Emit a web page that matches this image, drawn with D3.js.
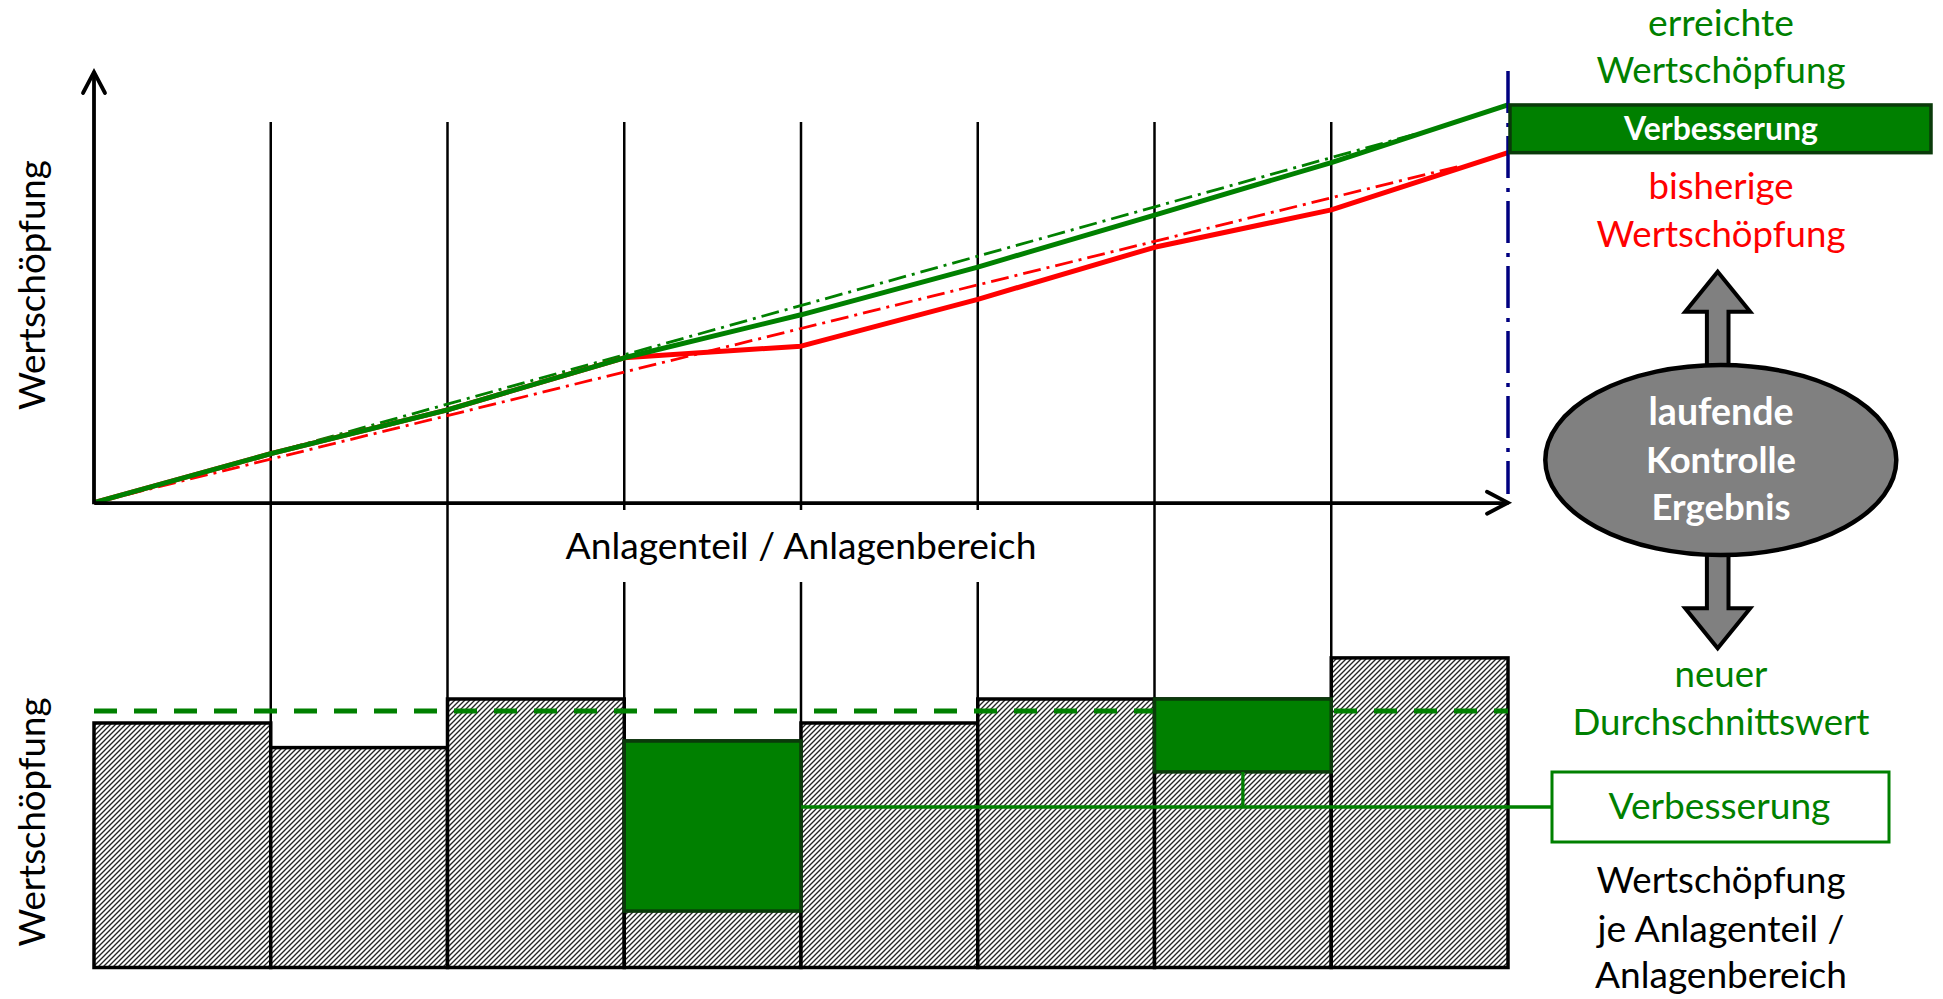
<!DOCTYPE html>
<html>
<head>
<meta charset="utf-8">
<script src="https://cdn.jsdelivr.net/npm/d3@7"></script>
<style>
  html, body { margin: 0; padding: 0; background: #ffffff; }
  svg { display: block; }
</style>
</head>
<body>
<script>
// ---------------- DATA ----------------
// plant sections (unlabelled in the original drawing)
const parts = ["T1", "T2", "T3", "T4", "T5", "T6", "T7", "T8"];
// cumulative value added at the section boundaries (top chart)
const cumBefore = [0, 11.4, 21.6, 33.7, 36.4, 47.3, 59.4, 68.1, 81.4];   // bisherige (red)
const cumAfter  = [0, 11.4, 21.6, 33.7, 43.7, 54.8, 66.9, 79.1, 92.5];   // erreichte (green)
// straight trend lines (dash-dot): [boundary index, value]
const trendAfter  = [[0, 0], [7.51, 86.1]];
const trendBefore = [[0, 0], [7.72, 78.2]];
// value added per section (bottom chart)
const valueBase = [81.5, 73.3, 89.5, 18.8, 81.5, 89.5, 65.2, 103.2];
const valueGain = [0, 0, 0, 56.7, 0, 0, 24.3, 0];
const newAverage = [85.5];
// texts
const rightTopLabels = [
  {t: "erreichte", c: "green", w: 146, y: 36},
  {t: "Wertschöpfung", c: "green", w: 249, y: 83},
  {t: "bisherige", c: "red", w: 145, y: 199},
  {t: "Wertschöpfung", c: "red", w: 249, y: 247}
];
const ellipseLabels = [
  {t: "laufende", w: 145, y: 425},
  {t: "Kontrolle", w: 150, y: 473},
  {t: "Ergebnis", w: 139, y: 520}
];
const rightBottomLabels = [
  {t: "neuer", c: "green", w: 93, y: 687},
  {t: "Durchschnittswert", c: "green", w: 297, y: 735},
  {t: "Wertschöpfung", c: "black", w: 249, y: 893},
  {t: "je Anlagenteil /", c: "black", w: 247, y: 942},
  {t: "Anlagenbereich", c: "black", w: 252, y: 988}
];
const axisLabelX = "Anlagenteil / Anlagenbereich";
const axisLabelY = "Wertschöpfung";
const improvementLabel = "Verbesserung";

// ---------------- SETUP ----------------
const W = 1943, H = 999;
const GREEN = "#008000", DARKGREEN = "#0a3a0a", RED = "#ff0000", NAVY = "#000080", GREY = "#808080";
const FONT = "Lato, 'Open Sans', 'DejaVu Sans', sans-serif";

const svg = d3.select("body").append("svg").attr("width", W).attr("height", H)
  .style("font-family", FONT);

const xTop = d3.scaleLinear().domain([0, parts.length]).range([94, 1508]);
const yTop = d3.scaleLinear().domain([0, 100]).range([502.7, 72.7]);
const yBot = d3.scaleLinear().domain([0, 100]).range([967.5, 667.5]);

// hatch pattern
const defs = svg.append("defs");
const pat = defs.append("pattern").attr("id", "hatch").attr("patternUnits", "userSpaceOnUse")
  .attr("width", 5).attr("height", 5);
pat.append("rect").attr("width", 5).attr("height", 5).attr("fill", "#ffffff");
pat.append("path").attr("d", "M-1,1 l2,-2 M0,5 l5,-5 M4,6 l2,-2")
  .attr("stroke", "#262626").attr("stroke-width", 1.35);

function fitText(sel, target) {
  sel.each(function () {
    const base = 40;
    d3.select(this).style("font-size", base + "px");
    const w = this.getComputedTextLength();
    if (w > 0) d3.select(this).style("font-size", (base * target / w) + "px");
  });
}

// ---------------- SEPARATOR LINES ----------------
const gapSet = new Set([3, 4, 5]);
const sepG = svg.append("g");
d3.range(1, parts.length).forEach(i => {
  const segs = gapSet.has(i) ? [[122, 510], [582, yBot(0)]] : [[122, yBot(0)]];
  segs.forEach(s => {
    sepG.append("line").attr("x1", xTop(i)).attr("x2", xTop(i))
      .attr("y1", s[0]).attr("y2", s[1]).attr("stroke", "#000").attr("stroke-width", 2.5);
  });
});

// ---------------- BOTTOM CHART ----------------
const barsG = svg.append("g");
barsG.selectAll("rect.base").data(parts).join("rect").attr("class", "base")
  .attr("x", (d, i) => xTop(i))
  .attr("width", (d, i) => xTop(i + 1) - xTop(i))
  .attr("y", (d, i) => yBot(valueBase[i] + valueGain[i]))
  .attr("height", (d, i) => yBot(0) - yBot(valueBase[i] + valueGain[i]))
  .attr("fill", "url(#hatch)").attr("stroke", "#000").attr("stroke-width", 3.5);

// new average dashed line
svg.append("g").selectAll("line").data(newAverage).join("line")
  .attr("x1", xTop(0)).attr("x2", xTop(parts.length))
  .attr("y1", d => yBot(d)).attr("y2", d => yBot(d))
  .attr("stroke", GREEN).attr("stroke-width", 5).attr("stroke-dasharray", "23,17");

// improvement boxes (drawn above the dashed line)
const gainIdx = d3.range(parts.length).filter(i => valueGain[i] > 0);
svg.append("g").selectAll("rect.gain").data(gainIdx).join("rect").attr("class", "gain")
  .attr("x", i => xTop(i))
  .attr("width", i => xTop(i + 1) - xTop(i))
  .attr("y", i => yBot(valueBase[i] + valueGain[i]))
  .attr("height", i => yBot(valueBase[i]) - yBot(valueBase[i] + valueGain[i]))
  .attr("fill", GREEN).attr("stroke", DARKGREEN).attr("stroke-width", 3.5);

// connectors to the "Verbesserung" label
const connY = yBot(53.5);
const boxB = {x: 1552, y: 772, w: 337, h: 70};
svg.append("line").attr("x1", xTop(gainIdx[0] + 1)).attr("x2", boxB.x)
  .attr("y1", connY).attr("y2", connY).attr("stroke", GREEN).attr("stroke-width", 3.3);
svg.append("line").attr("x1", (xTop(gainIdx[1]) + xTop(gainIdx[1] + 1)) / 2)
  .attr("x2", (xTop(gainIdx[1]) + xTop(gainIdx[1] + 1)) / 2)
  .attr("y1", yBot(valueBase[gainIdx[1]])).attr("y2", connY)
  .attr("stroke", GREEN).attr("stroke-width", 3.3);
svg.append("rect").attr("x", boxB.x).attr("y", boxB.y).attr("width", boxB.w).attr("height", boxB.h)
  .attr("fill", "#fff").attr("stroke", GREEN).attr("stroke-width", 3);
svg.append("text").attr("x", boxB.x + boxB.w / 2 - 1).attr("y", 819)
  .attr("text-anchor", "middle").attr("fill", GREEN).text(improvementLabel).call(fitText, 222);

// ---------------- TOP CHART ----------------
const lineGen = d3.line().x(d => xTop(d[0])).y(d => yTop(d[1]));
const topG = svg.append("g").attr("fill", "none");
topG.append("path").attr("d", lineGen(trendBefore)).attr("stroke", RED)
  .attr("stroke-width", 2.8).attr("stroke-dasharray", "18,6,3,6");
topG.append("path").attr("d", lineGen(trendAfter)).attr("stroke", GREEN)
  .attr("stroke-width", 2.8).attr("stroke-dasharray", "18,6,3,6");
topG.append("path").attr("d", lineGen(cumBefore.map((v, i) => [i, v]))).attr("stroke", RED)
  .attr("stroke-width", 5).attr("stroke-linejoin", "round");
topG.append("path").attr("d", lineGen(cumAfter.map((v, i) => [i, v]))).attr("stroke", GREEN)
  .attr("stroke-width", 5).attr("stroke-linejoin", "round");

// navy dash-dot line at the end
svg.append("line").attr("x1", xTop(parts.length)).attr("x2", xTop(parts.length))
  .attr("y1", 71).attr("y2", 494).attr("stroke", NAVY).attr("stroke-width", 3.5)
  .attr("stroke-dasharray", "42,10,4,9");

// axes (no ticks)
const xAxis = svg.append("g").attr("transform", `translate(0,${yTop(0)})`)
  .call(d3.axisBottom(xTop).tickValues([]).tickSizeOuter(0));
const yAxis = svg.append("g").attr("transform", `translate(${xTop(0)},0)`)
  .call(d3.axisLeft(yTop).tickValues([]).tickSizeOuter(0));
yAxis.select(".domain").attr("d", `M0,${yTop(0) + 1.5}V${yTop(100) - 1}`);
[xAxis, yAxis].forEach(a => a.select(".domain").attr("stroke", "#000").attr("stroke-width", 3.8));
svg.append("path").attr("d", `M${xTop(0) - 11},93 L${xTop(0)},72 L${xTop(0) + 11},93`)
  .attr("fill", "none").attr("stroke", "#000").attr("stroke-width", 3.8).attr("stroke-linecap", "round");
svg.append("path").attr("d", `M${xTop(parts.length) - 21},${yTop(0) - 11} L${xTop(parts.length)},${yTop(0)} L${xTop(parts.length) - 21},${yTop(0) + 11}`)
  .attr("fill", "none").attr("stroke", "#000").attr("stroke-width", 3.8).attr("stroke-linecap", "round");

// improvement box at end of top chart
const endAfter = cumAfter[cumAfter.length - 1], endBefore = cumBefore[cumBefore.length - 1];
svg.append("rect").attr("x", xTop(parts.length) + 2).attr("y", yTop(endAfter))
  .attr("width", 1931 - xTop(parts.length) - 2).attr("height", yTop(endBefore) - yTop(endAfter))
  .attr("fill", GREEN).attr("stroke", DARKGREEN).attr("stroke-width", 3.5);
svg.append("text").attr("x", 1721).attr("y", 140).attr("text-anchor", "middle")
  .attr("fill", "#fff").attr("font-weight", 700).text(improvementLabel).call(fitText, 194);

// axis labels
svg.append("text").attr("x", 801).attr("y", 559).attr("text-anchor", "middle").attr("fill", "#000")
  .text(axisLabelX).call(fitText, 471);
svg.append("text").attr("transform", "translate(45,285) rotate(-90)").attr("text-anchor", "middle")
  .attr("fill", "#000").text(axisLabelY).call(fitText, 250);
svg.append("text").attr("transform", "translate(45,822) rotate(-90)").attr("text-anchor", "middle")
  .attr("fill", "#000").text(axisLabelY).call(fitText, 249);

// ---------------- RIGHT PANEL ----------------
const colorMap = {green: GREEN, red: RED, black: "#000"};
const cx = 1721;
svg.append("g").selectAll("text").data(rightTopLabels.concat(rightBottomLabels)).join("text")
  .attr("x", cx).attr("y", d => d.y).attr("text-anchor", "middle")
  .attr("fill", d => colorMap[d.c]).text(d => d.t)
  .each(function (d) { d3.select(this).call(fitText, d.w); });

// double arrow + ellipse
const ax = 1717.7, shaft = 10.8, head = 32.5;
svg.append("path").attr("d",
  `M${ax},271.7 L${ax + head},311.7 L${ax + shaft},311.7 L${ax + shaft},400 L${ax - shaft},400 L${ax - shaft},311.7 L${ax - head},311.7 Z`)
  .attr("fill", GREY).attr("stroke", "#000").attr("stroke-width", 4).attr("stroke-linejoin", "miter");
svg.append("path").attr("d",
  `M${ax},648.3 L${ax + head},608.3 L${ax + shaft},608.3 L${ax + shaft},520 L${ax - shaft},520 L${ax - shaft},608.3 L${ax - head},608.3 Z`)
  .attr("fill", GREY).attr("stroke", "#000").attr("stroke-width", 4).attr("stroke-linejoin", "miter");
svg.append("ellipse").attr("cx", 1720.8).attr("cy", 460).attr("rx", 175.5).attr("ry", 95)
  .attr("fill", GREY).attr("stroke", "#000").attr("stroke-width", 4.5);
svg.append("g").selectAll("text").data(ellipseLabels).join("text")
  .attr("x", cx).attr("y", d => d.y).attr("text-anchor", "middle")
  .attr("fill", "#fff").attr("font-weight", 700).text(d => d.t)
  .each(function (d) { d3.select(this).call(fitText, d.w); });
</script>
</body>
</html>
